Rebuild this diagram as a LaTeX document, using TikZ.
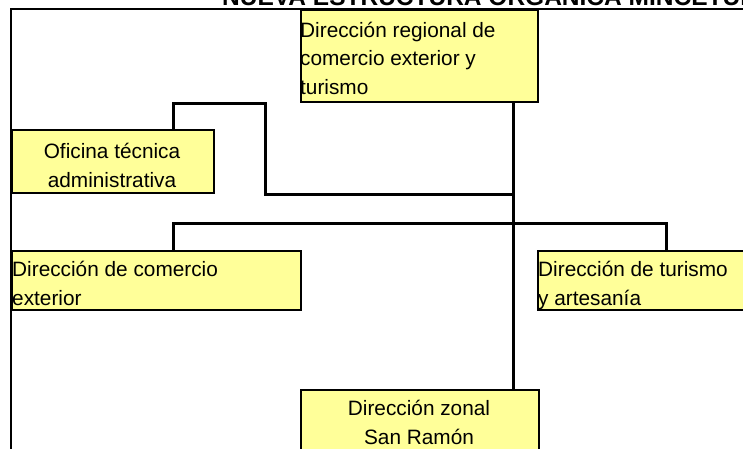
\documentclass[tikz,border=0pt]{standalone}
\usepackage{fontspec}
\setmainfont{Liberation Sans}
\definecolor{boxyellow}{HTML}{FFFF99}
\begin{document}
\begin{tikzpicture}[x=1pt,y=-1pt,
  box/.style={draw=black, line width=1.6pt, fill=boxyellow, inner sep=0pt, anchor=north west},
  txt/.style={inner sep=0pt, font=\fontsize{20.8}{28.5}\selectfont},
  conn/.style={draw=black, line width=3pt},
  frame/.style={draw=black, line width=2pt}]
\useasboundingbox (0,0) rectangle (743,448);
% title (cropped at top)
\node[inner sep=0pt, anchor=base west, font=\fontsize{24.5}{26}\selectfont\bfseries] (title) at (222,5) {NUEVA ESTRUCTURA ORGANICA MINCETUR};
% frame
\coordinate (frTR) at (760,9);
\coordinate (frTL) at (11,9);
\coordinate (frBL) at (11,460);
\draw[frame] (frTR) -- (frTL) -- (frBL);
% boxes
\node[box, minimum width=237pt, minimum height=92pt] (top) at (300,9) {};
\node[box, minimum width=202pt, minimum height=63pt] (ofi) at (11,129) {};
\node[box, minimum width=289pt, minimum height=59pt] (com) at (11,250) {};
\node[box, minimum width=230pt, minimum height=59pt] (tur) at (537,250) {};
\node[box, minimum width=238pt, minimum height=80pt] (zon) at (300,389) {};
% texts (anchored at the baseline of their last line)
\node[txt, anchor=base west, align=left] (topT) at (300,94) {Dirección regional de\\comercio exterior y\\turismo};
\node[txt, anchor=base, align=center] (ofiT) at (112,187) {Oficina técnica\\administrativa};
\node[txt, anchor=base west, align=left] (comT) at (12,305) {Dirección de comercio\\exterior};
\node[txt, anchor=base west, align=left] (turT) at (538,305) {Dirección de turismo\\y artesanía};
\node[txt, anchor=base, align=center] (zonT) at (419,444) {Dirección zonal\\San Ramón};
% connector guide coordinates
\coordinate (mx) at (513,0);
\coordinate (ax) at (173,0);
\coordinate (bx) at (265,0);
\coordinate (tx) at (666,0);
\coordinate (y1) at (0,103);
\coordinate (y2) at (0,194);
\coordinate (y3) at (0,223);
% main vertical
\draw[conn] (top.south -| mx) -- (zon.north -| mx);
% oficina connector
\draw[conn] (ofi.north -| ax) -- (ax |- y1) -- (bx |- y1) -- (bx |- y2) -- (mx |- y2);
% branch to direcciones
\draw[conn] (com.north -| ax) -- (ax |- y3) -- (tx |- y3) -- (tur.north -| tx);
\end{tikzpicture}
\end{document}
